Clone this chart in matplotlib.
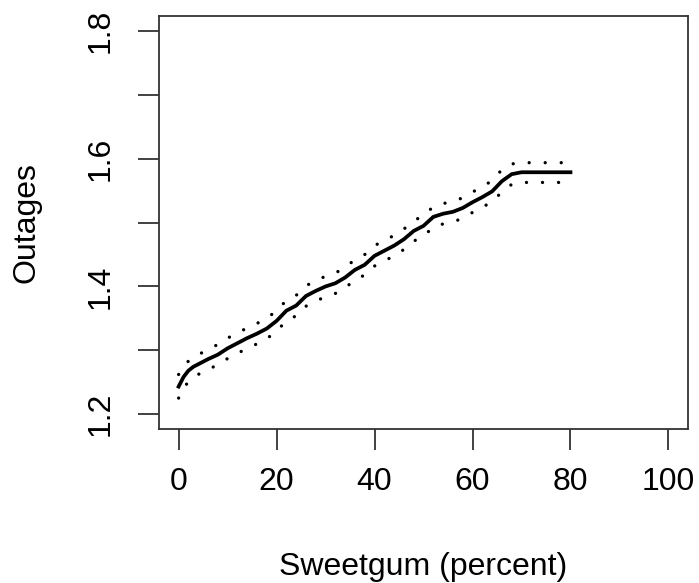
import matplotlib
matplotlib.use('Agg')
import matplotlib.pyplot as plt

# sweetgum percentage and fitted outages with upper/lower bands
sweetgum = [0, 1, 2, 3, 4, 6, 8, 10, 12, 14, 16, 18, 20, 22, 24, 26, 28, 30, 32, 34, 36, 38,
            40, 42, 44, 46, 48, 50, 52, 54, 56, 58, 60, 62, 64, 66, 68, 70, 72, 74, 76, 78, 80]
fit = [1.243, 1.258, 1.268, 1.274, 1.278, 1.286, 1.293, 1.303, 1.311, 1.319, 1.326, 1.334,
       1.346, 1.362, 1.370, 1.385, 1.393, 1.400, 1.405, 1.414, 1.426, 1.434, 1.448, 1.456,
       1.464, 1.474, 1.487, 1.495, 1.509, 1.514, 1.517, 1.523, 1.532, 1.540, 1.549, 1.565,
       1.576, 1.579, 1.579, 1.579, 1.579, 1.579, 1.579]
upper = [1.262, 1.273, 1.283, 1.289, 1.293, 1.301, 1.309, 1.319, 1.327, 1.335, 1.342, 1.350,
         1.362, 1.378, 1.386, 1.401, 1.409, 1.416, 1.421, 1.430, 1.442, 1.450, 1.464, 1.472,
         1.480, 1.490, 1.503, 1.511, 1.525, 1.530, 1.533, 1.539, 1.548, 1.556, 1.566, 1.583,
         1.592, 1.594, 1.594, 1.594, 1.594, 1.594, 1.594]
lower = [1.225, 1.240, 1.251, 1.257, 1.262, 1.270, 1.277, 1.287, 1.295, 1.303, 1.310, 1.318,
         1.330, 1.346, 1.354, 1.369, 1.377, 1.384, 1.389, 1.398, 1.410, 1.418, 1.432, 1.440,
         1.448, 1.458, 1.471, 1.479, 1.493, 1.498, 1.501, 1.507, 1.516, 1.524, 1.533, 1.548,
         1.560, 1.563, 1.563, 1.563, 1.563, 1.563, 1.563]

x_ticks = [0, 20, 40, 60, 80, 100]
y_ticks = [1.2, 1.3, 1.4, 1.5, 1.6, 1.7, 1.8]
y_labels = ['1.2', '', '1.4', '', '1.6', '', '1.8']

plt.rcParams['font.family'] = ['Liberation Sans', 'DejaVu Sans']

fig = plt.figure(figsize=(6.99, 5.83), dpi=100)
ax = fig.add_axes([0.2275, 0.2636, 0.7568, 0.709])

ax.plot(sweetgum, fit, color='black', lw=2.7, solid_joinstyle='round')
dotted = (0, (0.01, 4.8))
ax.plot(sweetgum, upper, color='black', lw=2.4, linestyle=dotted, dash_capstyle='round')
ax.plot(sweetgum, lower, color='black', lw=2.4, linestyle=dotted, dash_capstyle='round')

ax.set_xlim(-4, 104)
ax.set_ylim(1.176, 1.824)
ax.set_xticks(x_ticks)
ax.set_yticks(y_ticks)
ax.set_yticklabels(y_labels, rotation=90, va='center')
ax.tick_params(direction='out', length=15, width=1.3, labelsize=23, color='#333333')
ax.tick_params(axis='x', pad=12)
ax.tick_params(axis='y', pad=16)

for s in ax.spines.values():
    s.set_linewidth(1.3)
    s.set_color('#333333')

ax.set_xlabel('Sweetgum (percent)', fontsize=23)
ax.set_ylabel('Outages', fontsize=23)
ax.xaxis.set_label_coords(0.5, -0.297)
ax.yaxis.set_label_coords(-0.223, 0.5)

fig.savefig('out.png', dpi=100)
